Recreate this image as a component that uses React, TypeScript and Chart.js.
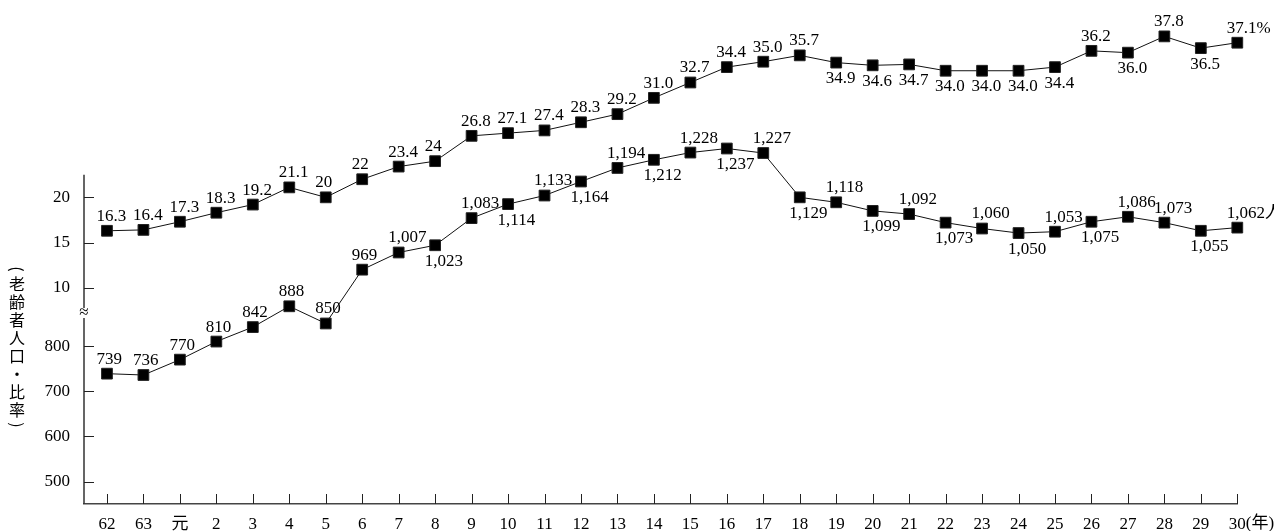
import { useEffect, useRef } from 'react';
import { Chart, registerables } from 'chart.js';

Chart.register(...registerables);

// ---- data ----
const YEARS = ['62', '63', '元', '2', '3', '4', '5', '6', '7', '8', '9', '10', '11', '12', '13', '14', '15', '16', '17', '18', '19', '20', '21', '22', '23', '24', '25', '26', '27', '28', '29', '30'];
const YEAR_UNIT = '(年)';

const RATIO = [16.3, 16.4, 17.3, 18.3, 19.2, 21.1, 20, 22, 23.4, 24, 26.8, 27.1, 27.4, 28.3, 29.2, 31.0, 32.7, 34.4, 35.0, 35.7, 34.9, 34.6, 34.7, 34.0, 34.0, 34.0, 34.4, 36.2, 36.0, 37.8, 36.5, 37.1];
const RATIO_LABELS = ['16.3', '16.4', '17.3', '18.3', '19.2', '21.1', '20', '22', '23.4', '24', '26.8', '27.1', '27.4', '28.3', '29.2', '31.0', '32.7', '34.4', '35.0', '35.7', '34.9', '34.6', '34.7', '34.0', '34.0', '34.0', '34.4', '36.2', '36.0', '37.8', '36.5', '37.1%'];
const RATIO_POS = ['a', 'a', 'a', 'a', 'a', 'a', 'a', 'a', 'a', 'a', 'a', 'a', 'a', 'a', 'a', 'a', 'a', 'a', 'a', 'a', 'b', 'b', 'b', 'b', 'b', 'b', 'b', 'a', 'b', 'a', 'b', 'a'];

const POP = [739, 736, 770, 810, 842, 888, 850, 969, 1007, 1023, 1083, 1114, 1133, 1164, 1194, 1212, 1228, 1237, 1227, 1129, 1118, 1099, 1092, 1073, 1060, 1050, 1053, 1075, 1086, 1073, 1055, 1062];
const POP_UNIT = '人';
const POP_POS = ['a', 'a', 'a', 'a', 'a', 'a', 'a', 'a', 'a', 'b', 'a', 'b', 'a', 'b', 'a', 'b', 'a', 'b', 'a', 'b', 'a', 'b', 'a', 'b', 'a', 'b', 'a', 'b', 'a', 'a', 'b', 'a'];

const POP_TICKS = [500, 600, 700, 800];
const RATIO_TICKS = [10, 15, 20];
const AXIS_TITLE = ['(', '老', '齢', '者', '人', '口', '・', '比', '率', ')'];

// ---- layout / style ----
const R_OFF = 729; // ratio -> population-axis mapping
const R_FAC = 20;
const AREA_TOP = 24;
const AREA_BOTTOM = 504;
const PX_PER_UNIT = 0.4523;
const Y_MIN = 450.7;
const Y_MAX = Y_MIN + (AREA_BOTTOM - AREA_TOP) / PX_PER_UNIT;
const AXIS_TOP_RATIO = 22.5;
const FONT = '"Liberation Serif", "Noto Sans CJK JP", serif';

const decoPlugin = {
  id: 'deco',
  afterDraw(chart: any) {
    const ctx = chart.ctx;
    const ys = chart.scales.y;
    const xs = chart.scales.x;
    const area = chart.chartArea;
    const axX = area.left;
    const bottom = area.bottom;
    ctx.save();
    // y axis line with break
    const top = ys.getPixelForValue(R_OFF + R_FAC * AXIS_TOP_RATIO);
    const breakY = (ys.getPixelForValue(800) + ys.getPixelForValue(R_OFF + R_FAC * 10)) / 2 - 4;
    ctx.strokeStyle = '#333';
    ctx.lineWidth = 1.5;
    ctx.beginPath();
    ctx.moveTo(axX, top);
    ctx.lineTo(axX, breakY - 5);
    ctx.moveTo(axX, breakY + 5);
    ctx.lineTo(axX, bottom);
    ctx.stroke();
    ctx.fillStyle = '#000';
    ctx.font = '17px ' + FONT;
    ctx.textAlign = 'center';
    ctx.textBaseline = 'middle';
    ctx.fillText('≈', axX, breakY);
    // y ticks inward
    ctx.strokeStyle = '#222';
    ctx.lineWidth = 1;
    const yTickVals = [...POP_TICKS, ...RATIO_TICKS.map((p) => R_OFF + R_FAC * p)];
    ctx.beginPath();
    yTickVals.forEach((v) => {
      const py = Math.round(ys.getPixelForValue(v)) + 0.5;
      ctx.moveTo(axX, py);
      ctx.lineTo(axX + 10, py);
    });
    // x ticks inward
    YEARS.forEach((_, i) => {
      const px = Math.round(xs.getPixelForValue(i)) + 0.5;
      ctx.moveTo(px, bottom);
      ctx.lineTo(px, bottom - 10);
    });
    ctx.stroke();
    // year unit after last label
    ctx.font = '17px ' + FONT;
    ctx.textAlign = 'left';
    const lastX = xs.getPixelForValue(YEARS.length - 1);
    const w = ctx.measureText(YEARS[YEARS.length - 1]).width;
    ctx.fillText(YEAR_UNIT, lastX + w / 2, bottom + 20);
    // vertical axis title (upright characters, rotated parentheses)
    ctx.font = '16px "Noto Sans CJK JP", sans-serif';
    ctx.textAlign = 'center';
    AXIS_TITLE.forEach((ch, i) => {
      const cy = 266 + i * 18;
      if (ch === '(' || ch === ')') {
        ctx.save();
        ctx.translate(17, cy + (ch === '(' ? 3 : -3));
        ctx.rotate(Math.PI / 2);
        ctx.fillText(ch, 0, 0);
        ctx.restore();
      } else {
        ctx.fillText(ch, 17, cy);
      }
    });
    ctx.restore();
  },
  afterDatasetsDraw(chart: any) {
    const ctx = chart.ctx;
    ctx.save();
    ctx.fillStyle = '#000';
    ctx.font = '17px ' + FONT;
    ctx.textAlign = 'left';
    ctx.textBaseline = 'middle';
    const sets = [
      { idx: 0, labels: RATIO_LABELS, pos: RATIO_POS },
      { idx: 1, labels: POP.map((v, i) => v.toLocaleString('en-US') + (i === POP.length - 1 ? POP_UNIT : '')), pos: POP_POS },
    ];
    sets.forEach((s) => {
      const meta = chart.getDatasetMeta(s.idx);
      meta.data.forEach((pt: any, i: number) => {
        const dy = s.pos[i] === 'a' ? -14.5 : 16;
        ctx.fillText(s.labels[i], pt.x - 10.5, pt.y + dy);
      });
    });
    ctx.restore();
  },
};

export default function App() {
  const ref = useRef<HTMLCanvasElement | null>(null);
  useEffect(() => {
    if (!ref.current) return;
    const chart = new Chart(ref.current, {
      type: 'line',
      data: {
        datasets: [
          {
            label: '比率',
            data: RATIO.map((v, i) => ({ x: i, y: v })),
            yAxisID: 'y2',
            borderColor: '#111',
            borderWidth: 1,
            pointStyle: 'rect',
            pointRadius: 7.6,
            pointBackgroundColor: '#000',
            pointBorderColor: '#222',
            pointBorderWidth: 1,
            tension: 0,
            clip: false as any,
          },
          {
            label: '老齢者人口',
            data: POP.map((v, i) => ({ x: i, y: v })),
            yAxisID: 'y',
            borderColor: '#111',
            borderWidth: 1,
            pointStyle: 'rect',
            pointRadius: 7.6,
            pointBackgroundColor: '#000',
            pointBorderColor: '#222',
            pointBorderWidth: 1,
            tension: 0,
            clip: false as any,
          },
        ],
      },
      options: {
        animation: false,
        responsive: true,
        maintainAspectRatio: false,
        events: [],
        layout: { padding: { left: 0, right: 36.7, top: AREA_TOP, bottom: 0 } },
        plugins: { legend: { display: false }, tooltip: { enabled: false } },
        scales: {
          x: {
            type: 'linear',
            min: -0.63,
            max: YEARS.length - 1,
            grid: { display: false, drawTicks: false },
            border: { display: true, color: '#444', width: 1.5 },
            afterBuildTicks: (s: any) => {
              s.ticks = YEARS.map((_, i) => ({ value: i }));
            },
            afterFit: (s: any) => {
              s.height = 531 - AREA_BOTTOM;
            },
            ticks: {
              autoSkip: false,
              maxRotation: 0,
              padding: 10,
              color: '#000',
              font: { family: FONT, size: 17 },
              callback: (v: any) => YEARS[Math.round(v)] ?? '',
            },
          },
          y: {
            type: 'linear',
            position: 'left',
            min: Y_MIN,
            max: Y_MAX,
            grid: { display: false, drawTicks: false },
            border: { display: false },
            afterBuildTicks: (s: any) => {
              s.ticks = [...POP_TICKS.map((v) => ({ value: v })), ...RATIO_TICKS.map((p) => ({ value: R_OFF + R_FAC * p }))];
            },
            afterFit: (s: any) => {
              s.width = 84;
            },
            ticks: {
              padding: 14,
              color: '#000',
              font: { family: FONT, size: 17 },
              callback: (_v: any, i: number) => String(i < POP_TICKS.length ? POP_TICKS[i] : RATIO_TICKS[i - POP_TICKS.length]),
            },
          },
          y2: {
            type: 'linear',
            display: false,
            min: (Y_MIN - R_OFF) / R_FAC,
            max: (Y_MAX - R_OFF) / R_FAC,
          },
        },
      },
      plugins: [decoPlugin],
    });
    return () => chart.destroy();
  }, []);
  return (
    <div style={{ position: 'fixed', left: 0, top: 0, width: 1274, height: 531, background: '#fff' }}>
      <canvas ref={ref} />
    </div>
  );
}
